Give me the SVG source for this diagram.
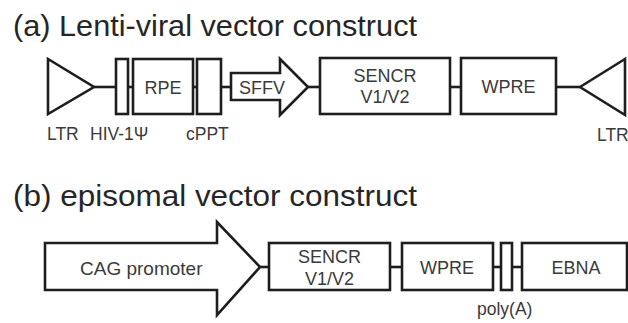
<svg xmlns="http://www.w3.org/2000/svg" width="628" height="323" viewBox="0 0 628 323">
<style>
.bg{fill:#ffffff}
.shape{fill:#ffffff;stroke:#1e1e1e;stroke-width:2.6;stroke-linejoin:miter}
.conn{stroke:#1e1e1e;stroke-width:2.6;fill:none}
.title{font-family:"Liberation Sans",Arial,sans-serif;font-size:30px;fill:#262626}
.lbl{font-family:"Liberation Sans",Arial,sans-serif;font-size:18px;fill:#3a3a3a}
.small{font-family:"Liberation Sans",Arial,sans-serif;font-size:17.5px;fill:#3a3a3a}
.mid{text-anchor:middle}
</style>
<rect class="bg" x="0" y="0" width="628" height="323"/>

<text class="title" x="13" y="36" textLength="404" lengthAdjust="spacingAndGlyphs">(a) Lenti-viral vector construct</text>
<text class="title" x="13" y="206" textLength="404" lengthAdjust="spacingAndGlyphs">(b) episomal vector construct</text>

<g id="connectors">
  <line class="conn" x1="94" y1="87" x2="116" y2="87"/>
  <line class="conn" x1="128" y1="87" x2="133" y2="87"/>
  <line class="conn" x1="193" y1="87" x2="197" y2="87"/>
  <line class="conn" x1="221" y1="87" x2="231" y2="87"/>
  <line class="conn" x1="308" y1="87" x2="320" y2="87"/>
  <line class="conn" x1="450" y1="87" x2="461" y2="87"/>
  <line class="conn" x1="556" y1="87" x2="580" y2="87"/>
  <line class="conn" x1="260" y1="267" x2="269" y2="267"/>
  <line class="conn" x1="390" y1="267" x2="402" y2="267"/>
  <line class="conn" x1="493" y1="267" x2="501" y2="267"/>
  <line class="conn" x1="512" y1="267" x2="522" y2="267"/>
</g>

<g id="ltr-left">
  <polygon class="shape" points="48,59 48,114 94,87"/>
  <text class="small" x="47" y="140">LTR</text>
</g>
<g id="hiv-psi">
  <rect class="shape" x="116" y="59" width="12" height="55"/>
  <text class="small" x="90" y="140">HIV-1Ψ</text>
</g>
<g id="rpe">
  <rect class="shape" x="133" y="59" width="60" height="55"/>
  <text class="lbl mid" x="163" y="94">RPE</text>
</g>
<g id="cppt">
  <rect class="shape" x="197" y="59" width="24" height="55"/>
  <text class="small" x="186" y="140">cPPT</text>
</g>
<g id="sffv">
  <polygon class="shape" points="231,73 280,73 280,59 308,87 280,115 280,100 231,100"/>
  <text class="lbl" x="239" y="94">SFFV</text>
</g>
<g id="sencr-a">
  <rect class="shape" x="320" y="58" width="130" height="56"/>
  <text class="lbl mid" x="385" y="82">SENCR</text>
  <text class="lbl mid" x="385" y="103">V1/V2</text>
</g>
<g id="wpre-a">
  <rect class="shape" x="461" y="58" width="95" height="56"/>
  <text class="lbl mid" x="508.5" y="93">WPRE</text>
</g>
<g id="ltr-right">
  <polygon class="shape" points="580,87 625,59 625,115"/>
  <text class="small" x="597" y="141">LTR</text>
</g>

<g id="cag">
  <polygon class="shape" points="45,243 217,243 217,222 260,267 217,315 217,290 45,290"/>
  <text class="lbl" x="80" y="275" style="font-size:19px">CAG promoter</text>
</g>
<g id="sencr-b">
  <rect class="shape" x="269" y="243" width="121" height="47"/>
  <text class="lbl mid" x="329.5" y="263">SENCR</text>
  <text class="lbl mid" x="329.5" y="285">V1/V2</text>
</g>
<g id="wpre-b">
  <rect class="shape" x="402" y="243" width="91" height="47"/>
  <text class="lbl mid" x="447" y="274">WPRE</text>
</g>
<g id="polya">
  <rect class="shape" x="501" y="243" width="11" height="47"/>
  <text class="small" x="477" y="315">poly(A)</text>
</g>
<g id="ebna">
  <rect class="shape" x="522" y="243" width="105" height="47"/>
  <text class="lbl mid" x="576" y="274">EBNA</text>
</g>
</svg>
